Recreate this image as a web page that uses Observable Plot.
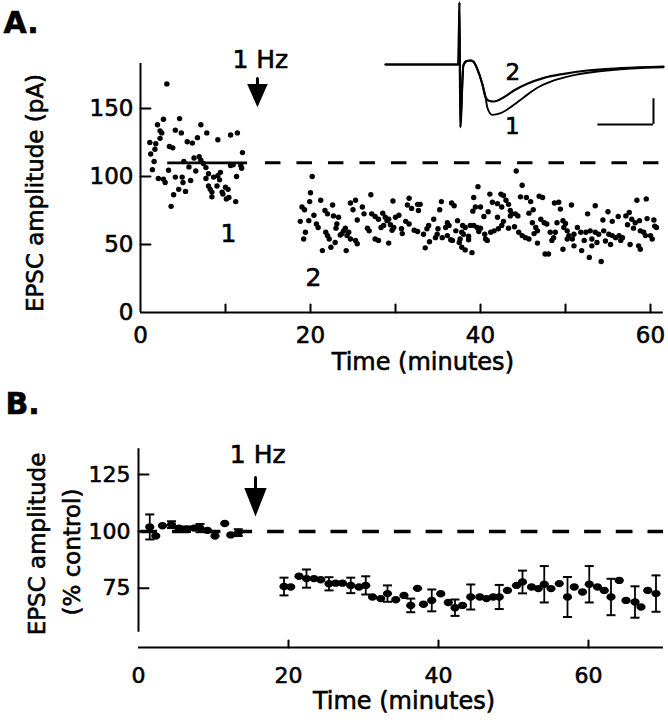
<!DOCTYPE html>
<html><head><meta charset="utf-8">
<script src="https://cdn.jsdelivr.net/npm/d3@7"></script>
<script src="https://cdn.jsdelivr.net/npm/@observablehq/plot@0.6"></script>
<style>
body{margin:0;background:#fff;}
#fig{position:relative;width:668px;height:720px;background:#fff;}
#fig svg{display:block;}
#fig svg text{stroke:#000;stroke-width:0.6px;}
#inset{position:absolute;left:370px;top:0;}
</style></head><body>
<div id="fig"><div id="a"></div><div id="b"></div><div id="inset"></div></div>
<script>
// ---------- Panel A data: EPSC amplitude (pA) vs time (min) ----------
const aPre = [[3.1,168],[2.7,142],[2.0,138],[2.3,133.5],[2.5,132],[4.6,142.5],[4.1,134],[4.8,132],[7.1,138],[7.8,132],[6.7,128.5],[5.5,125.5],[6.1,124.5],[9.1,127],[10.6,130.5],[11.4,132],[1.1,125],[1.8,124],[3.4,122],[3.8,121],[1.2,116.5],[12.0,117.5],[1.6,111],[6.3,113.5],[6.9,114.5],[7.1,112],[7.4,109.5],[7.7,106.5],[5.1,111],[5.7,107],[6.5,104],[1.4,105],[3.3,104.5],[10.6,108],[10.9,108.5],[11.8,108],[11.9,106],[9.4,103],[2.1,98.5],[2.7,98],[2.9,95.5],[4.1,99.5],[4.9,99.5],[5.9,97],[8.6,99.5],[9.3,97.5],[11.3,100],[8.0,93],[8.2,90.5],[8.4,88.5],[8.4,85],[9.0,93],[10.0,92],[10.3,90.5],[9.7,87],[9.6,88.5],[4.5,90.5],[5.3,89],[3.9,86.5],[10.1,83.5],[11.2,81.5],[3.6,78],[8.0,102],[7.7,98.5],[9.1,100.5],[2.3,128],[1.7,120],[5.0,95.5],[10.4,84.5]];
const aPost = [[20.2,100],[20.0,88],[19.9,81.5],[21.2,82.5],[19.0,77.5],[19.3,75.5],[22.6,79],[21.7,75],[22.0,72.5],[18.8,67],[19.8,67.5],[20.4,71.5],[20.7,65],[20.9,62.5],[22.7,71],[23.3,70],[23.1,65],[23.0,62],[24.7,80.5],[25.3,82.5],[25.0,75.5],[27.1,86.5],[26.1,77.5],[26.3,72.5],[25.5,68],[27.2,72.5],[27.6,70.5],[28.0,68.5],[28.5,73],[28.8,70],[28.3,62.5],[26.7,62],[26.9,60],[24.1,62],[23.9,60],[23.7,58],[23.5,57],[24.5,59],[24.3,56.5],[21.8,59],[22.0,56.5],[22.2,54],[19.4,59],[19.2,54],[22.9,51.5],[22.4,48],[21.4,45.5],[24.2,45.5],[24.7,54],[25.3,53],[25.5,50.5],[27.6,54],[28.0,53],[29.0,67.5],[28.6,64],
[39.7,92.5],[39.2,84.5],[29.7,82],[31.6,84],[31.4,79],[31.9,76.5],[32.6,79.5],[32.9,79.5],[32.7,75],[35.4,81.5],[35.2,75.5],[36.6,80.5],[36.9,78.5],[39.4,77.5],[39.1,74.5],[30.4,71.5],[30.0,70],[29.2,68.5],[29.4,64.5],[29.8,62.5],[29.6,60.5],[30.7,61.5],[30.8,58],[31.2,67],[31.6,65],[32.2,60.5],[32.6,59.5],[34.5,68.5],[33.9,64],[33.7,61.5],[33.3,57.5],[35.0,61.5],[34.9,57.5],[34.7,55],[36.1,66],[36.3,64],[35.9,62.5],[37.3,67.5],[37.1,60],[35.5,55],[36.1,56.5],[36.5,53.5],[36.7,53],[37.9,64],[38.2,62.5],[38.8,64],[39.2,64],[39.6,62.5],[37.8,59],[38.0,57.5],[38.6,56],[38.6,53.5],[37.6,54],[37.5,51.5],[37.8,48],[38.2,46],[39.0,44],[29.2,51],[34.0,52],[33.5,47.5],
[44.2,104],[44.9,93.5],[41.1,87],[42.4,87],[42.7,86],[43.0,82.5],[41.4,81],[42.0,80],[44.7,85],[45.4,84.5],[45.9,81.5],[45.7,73],[46.2,75.5],[46.9,85.5],[47.3,84.5],[48.7,80.5],[49.2,81],[49.4,76],[40.0,77.5],[40.9,74],[40.4,70.5],[42.5,77.5],[43.3,79.5],[43.5,75],[43.7,72.5],[44.1,72.5],[44.4,71],[43.5,71],[42.0,70],[42.7,67],[46.1,66],[47.1,68.5],[47.5,66],[47.8,65],[46.5,62.5],[46.7,60],[49.0,66],[49.7,67.5],[50.0,65.5],[49.8,62.5],[50.2,60],[40.0,62],[39.8,59.5],[40.5,57.5],[40.6,54],[40.8,53],[41.2,59],[41.6,60],[42.1,61.5],[42.5,64],[43.3,62],[44.0,63],[44.5,59],[44.9,56.5],[45.3,55],[45.7,54],[46.3,58],[46.7,51],[48.2,59],[48.8,59],[48.6,55],[48.4,53],[47.6,43],[48.0,43],[49.7,46.5],[50.2,54],
[58.4,82.5],[59.5,83.5],[50.7,79],[53.5,78.5],[52.6,72.5],[55.0,74],[51.4,62.5],[54.4,68],[55.5,67],[56.2,70.5],[57.1,71],[57.5,73.5],[57.8,68.5],[58.2,66],[58.7,67.5],[59.6,69],[60.4,68],[57.3,64.5],[58.0,62],[58.8,60],[59.2,59],[60.5,63.5],[50.4,56.5],[51.0,57.5],[51.8,59],[52.4,59],[52.9,60],[53.5,59],[53.9,57.5],[54.5,60],[55.1,57.5],[55.5,56.5],[55.9,55],[56.3,56.5],[56.7,55],[59.4,56.5],[60.0,56.5],[60.2,54],[50.8,54],[52.2,53],[53.1,54],[53.7,51.5],[54.7,52.5],[55.3,50],[56.5,53],[57.6,50],[58.6,49],[58.8,46.5],[51.0,49],[53.1,49],[51.9,45.5],[52.8,40.5],[54.2,37.5],[60.7,62.5]];
const aMean = 110;
const aXTicks = [10,20,30,40,50,60];
const aXLabels = [0,20,40,60];
const aYTicks = [50,100,150];
const aYLabels = [0,50,100,150];

// ---------- Panel B data: EPSC amplitude (% control), mean ± SEM ----------
const bPre = [[1.5,102,5.5],[2.3,98,0],[3.2,102.5,0],[4.4,103,1.5],[5.4,101.5,0],[6.4,101,1.2],[7.4,101.5,0],[8.2,101.5,1.8],[9.2,100.5,0],[10.2,98,0],[11.5,103.5,0],[12.3,98.5,0],[13.3,99.5,1.5]];
const bPost = [[19.4,75.8,3.9],[20.3,75.6,0],[21.4,80.3,0],[22.4,79.3,4],[23.4,79.3,0],[24.3,78.8,0],[25.4,77,2.9],[26.3,77.3,0],[27.2,77.3,0],[28.3,76.3,3.4],[29.4,75.6,0],[30.3,76.3,4],[31.2,71.2,0],[32.3,70.5,0],[33.2,72.7,3.6],[34.3,70,0],[35.4,71.9,0],[36.3,67.5,3],[37.2,75,0],[38.0,68,0],[39.1,69.7,4.8],[40.3,72.6,0],[41.3,68.8,0],[42.2,66.5,3.6],[43.2,67.5,0],[44.3,71.2,5.5],[45.5,71.2,0],[46.4,70.5,0],[47.3,71.2,0],[48.1,71.2,5.3],[49.2,74.1,0],[50.4,76.3,0],[51.2,77.8,5],[52.4,75.6,0],[53.3,74.9,0],[54.1,76.8,8],[55.0,74.9,0],[56.1,77.1,0],[57.2,71.2,8.8],[58.1,75.6,0],[59.2,73.4,0],[60.1,76.8,8],[61.2,75.6,0],[62.1,74.1,0],[63.0,71.2,8],[64.1,78.5,0],[65.0,69.7,0],[66.2,69,6.9],[67.0,66.8,0],[67.9,74.1,0],[69.0,72.7,8]];
const bXTicks = [20,40,60];
const bXLabels = [0,20,40,60];
const bYTicks = [75,100,125];
const bYLabels = [75,100,125];

// ---------- Inset: EPSC traces (ms, pA) ----------
const traceStart = [[0,0],[13.1,0],[13.3,121],[13.45,-122],[14.0,-2],[14.6,6.8],[15.3,7.8],[15.8,5.8],[16.5,-8.4],[17.4,-37.5],[18.0,-63.6]];
const trace1Tail = [[18.3,-83],[19.2,-98],[20.7,-94.7],[22.5,-83],[24.9,-63.6],[27.3,-45.3],[30.3,-31],[33.3,-22],[38.1,-13.6],[44.1,-7.8],[50.0,-5.3]];
const trace2Tail = [[18.7,-71],[19.5,-72],[21.3,-63.6],[23.1,-50.6],[25.5,-37.5],[28.5,-25.9],[32.1,-18.1],[36.3,-11.7],[42.3,-7.2],[50.0,-3.9]];
const scaleMs = 10, scalePA = 50;

// ---------- shapes ----------
const tickShape = {draw(c, l){ c.moveTo(0,0); c.lineTo(0,-l); }};
const arrowShape = (hl, hw) => ({draw(c, l){
  c.moveTo(0,0); c.lineTo(0,-(l-hl));
  c.moveTo(-hw,-(l-hl)); c.lineTo(0,-l); c.lineTo(hw,-(l-hl)); c.closePath();
}});
const ellipse = {draw(c){ const rx=4.6, ry=3.7, k=0.5523;
  c.moveTo(rx,0); c.bezierCurveTo(rx,ry*k,rx*k,ry,0,ry); c.bezierCurveTo(-rx*k,ry,-rx,ry*k,-rx,0);
  c.bezierCurveTo(-rx,-ry*k,-rx*k,-ry,0,-ry); c.bezierCurveTo(rx*k,-ry,rx,-ry*k,rx,0); c.closePath(); }};
const capSym = {draw(c){ c.moveTo(-4.5,0); c.lineTo(4.5,0); }};

const FONT = "DejaVu Sans";
const baseStyle = {fontFamily: FONT, color: "black", background: "transparent", overflow: "visible"};

// ---------- Panel A ----------
const A = Plot.plot({
  width: 668, height: 380,
  marginLeft: 140, marginRight: 5.25, marginTop: 63, marginBottom: 68,
  x: {domain: [0, 61.5]}, y: {domain: [0, 183]},
  style: baseStyle,
  marks: [
    Plot.ruleY([0], {x1: 0, x2: 61.5, strokeWidth: 2}),
    Plot.ruleX([0], {y1: 0, y2: 183, strokeWidth: 2}),
    Plot.vector(aXTicks, {x: d => d, y: 0, length: 8, anchor: "start", shape: tickShape, strokeWidth: 2}),
    Plot.vector(aYTicks, {x: 0, y: d => d, length: 10, rotate: 90, anchor: "start", shape: tickShape, strokeWidth: 2}),
    Plot.axisX({ticks: aXLabels, tickSize: 0, tickPadding: 14, fontSize: 23, label: null}),
    Plot.axisY({ticks: aYLabels, tickSize: 0, tickPadding: 7, fontSize: 23, label: null}),
    Plot.ruleY([aMean], {x1: 3.2, x2: 12.6, strokeWidth: 2.6}),
    Plot.ruleY([aMean], {x1: 14.7, x2: 61.5, strokeWidth: 3, strokeDasharray: "15.5,16"}),
    Plot.dot(aPre, {x: d => d[0], y: d => d[1], r: 2.7, fill: "black"}),
    Plot.dot(aPost, {x: d => d[0], y: d => d[1], r: 2.7, fill: "black"}),
    Plot.text(["1"], {x: 10.35, y: 58, fontSize: 25, lineAnchor: "middle"}),
    Plot.text(["2"], {x: 20.35, y: 25.7, fontSize: 25, lineAnchor: "middle"}),
    Plot.text(["1 Hz"], {x: 14.1, y: 180, fontSize: 25, lineAnchor: "bottom"}),
    Plot.vector([0], {x: 13.76, y: 153.6, length: 25, rotate: 180, anchor: "end", shape: arrowShape(18, 8), fill: "black", stroke: "black", strokeWidth: 3, strokeLinejoin: "miter"}),
    Plot.text(["Time (minutes)"], {frameAnchor: "bottom", dx: 21, dy: 57, fontSize: 24, textAnchor: "middle", lineAnchor: "bottom"}),
    Plot.text(["EPSC amplitude (pA)"], {frameAnchor: "left", dx: -105, dy: 5, rotate: -90, fontSize: 23, textAnchor: "middle", lineAnchor: "middle"}),
    Plot.text(["A."], {frameAnchor: "top-left", dx: -137, dy: -31, fontSize: 30, fontWeight: "bold", textAnchor: "start", lineAnchor: "bottom"})
  ]
});
document.getElementById("a").append(A);

// ---------- Panel B ----------
const bAll = bPre.concat(bPost);
const bErr = bAll.filter(d => d[2] > 0);
const B = Plot.plot({
  width: 668, height: 340,
  marginLeft: 138, marginRight: 5, marginTop: 60, marginBottom: 73,
  x: {domain: [0, 70]}, y: {domain: [49, 140]},
  style: baseStyle,
  marks: [
    Plot.ruleY([49], {x1: 0, x2: 70, strokeWidth: 2}),
    Plot.ruleX([0], {y1: 55.7, y2: 136.4, strokeWidth: 2}),
    Plot.vector(bXTicks, {x: d => d, y: 49, length: 7, anchor: "start", shape: tickShape, strokeWidth: 2}),
    Plot.vector(bYTicks, {x: 0, y: d => d, length: 10, rotate: 90, anchor: "start", shape: tickShape, strokeWidth: 2}),
    Plot.axisX({ticks: bXLabels, tickSize: 0, tickPadding: 20, fontSize: 22, label: null}),
    Plot.axisY({ticks: bYLabels, tickSize: 0, tickPadding: 8, fontSize: 22, label: null}),
    Plot.ruleY([100], {x1: 0, x2: 70, strokeWidth: 3.5, strokeDasharray: "16.7,15", strokeDashoffset: 29.4}),
    Plot.ruleX(bErr, {x: d => d[0], y1: d => d[1] - d[2], y2: d => d[1] + d[2], strokeWidth: 1.8}),
    Plot.dot(bErr, {x: d => d[0], y: d => d[1] + d[2], symbol: capSym, stroke: "black", strokeWidth: 2}),
    Plot.dot(bErr, {x: d => d[0], y: d => d[1] - d[2], symbol: capSym, stroke: "black", strokeWidth: 2}),
    Plot.dot(bAll, {x: d => d[0], y: d => d[1], symbol: ellipse, fill: "black"}),
    Plot.text(["1 Hz"], {x: 15.9, y: 129.9, fontSize: 25, lineAnchor: "bottom"}),
    Plot.vector([0], {x: 15.6, y: 108.4, length: 35, rotate: 180, anchor: "end", shape: arrowShape(23, 9), fill: "black", stroke: "black", strokeWidth: 3, strokeLinejoin: "miter"}),
    Plot.text(["Time (minutes)"], {frameAnchor: "bottom", dx: 3, dy: 61, fontSize: 24, textAnchor: "middle", lineAnchor: "bottom"}),
    Plot.text(["EPSC amplitude"], {frameAnchor: "left", dx: -101, dy: 0, rotate: -90, fontSize: 23, textAnchor: "middle", lineAnchor: "middle"}),
    Plot.text(["(% control)"], {frameAnchor: "left", dx: -66, dy: 8, rotate: -90, fontSize: 23, textAnchor: "middle", lineAnchor: "middle"}),
    Plot.text(["B."], {frameAnchor: "top-left", dx: -133, dy: -27, fontSize: 30, fontWeight: "bold", textAnchor: "start", lineAnchor: "bottom"})
  ]
});
document.getElementById("b").append(B);

// ---------- Inset traces ----------
const tr1 = traceStart.concat(trace1Tail);
const tr2 = traceStart.concat(trace2Tail);
const I = Plot.plot({
  width: 298, height: 135,
  marginLeft: 0, marginRight: 0, marginTop: 0, marginBottom: 0,
  x: {domain: [-2.698, 50.9], axis: null}, y: {domain: [-138.1, 124.5], axis: null},
  style: baseStyle,
  marks: [
    Plot.line(tr2, {x: d => d[0], y: d => d[1], strokeWidth: 2.2, curve: "monotone-x"}),
    Plot.line(tr1, {x: d => d[0], y: d => d[1], strokeWidth: 1.9, curve: "monotone-x"}),
    Plot.ruleY([-116.7], {x1: 38.2, x2: 38.2 + scaleMs, strokeWidth: 2}),
    Plot.ruleX([38.2 + scaleMs], {y1: -116.7, y2: -116.7 + scalePA, strokeWidth: 2}),
    Plot.text(["2"], {x: 22.9, y: -16.5, fontSize: 23, lineAnchor: "middle"}),
    Plot.text(["1"], {x: 22.8, y: -120.6, fontSize: 23, lineAnchor: "middle"})
  ]
});
document.getElementById("inset").append(I);
</script>
</body></html>
